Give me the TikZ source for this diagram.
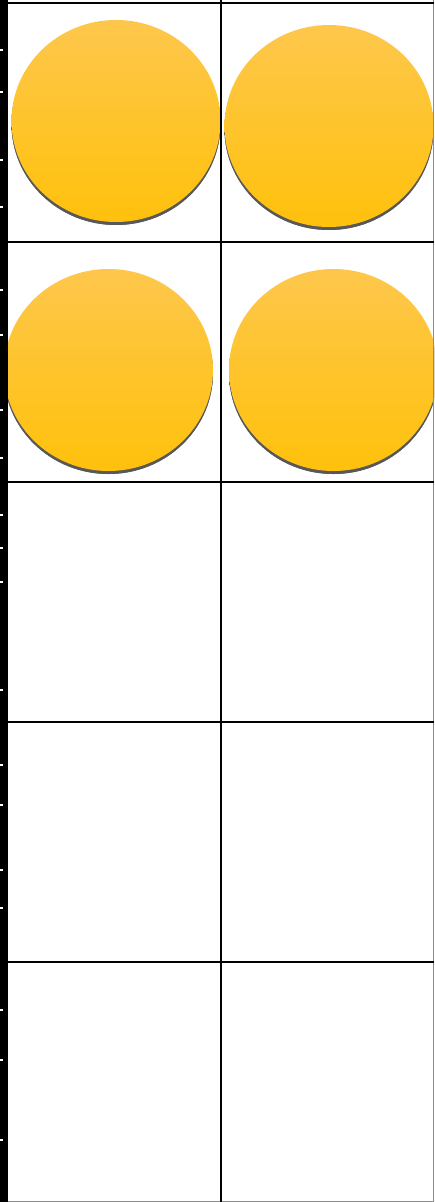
\documentclass[tikz,border=0pt]{standalone}
\usepackage{tikz}
\usetikzlibrary{shapes.geometric}

\definecolor{coinTop}{RGB}{254,199,76}
\definecolor{coinBottom}{RGB}{255,193,12}
\definecolor{coinEdge}{RGB}{88,88,88}

\begin{document}
\begin{tikzpicture}[
  x=1pt, y=-1pt,
  gridline/.style={draw=black, line width=2pt},
  edgeline/.style={draw=black!45, line width=1pt},
  coin/.style={
    ellipse, inner sep=0pt,
    minimum width=209pt, minimum height=202pt,
    top color=coinTop, bottom color=coinBottom
  },
  coinshadow/.style={coin, fill=coinEdge, top color=coinEdge, bottom color=coinEdge},
  tick/.style={draw=white, line width=1.2pt}
]

\useasboundingbox (0,0) rectangle (434,1202);
\fill[white] (0,0) rectangle (434,1202);
\clip (0,0) rectangle (434,1202);

% ---------- Coins (rows 1 and 2) ----------
\node[coinshadow] (sA) at (116,124) {};
\node[coin]       (coinA) at (116,121) {};
\node[coinshadow] (sB) at (329,129) {};
\node[coin]       (coinB) at (329,126) {};
\node[coinshadow] (sC) at (108.5,373) {};
\node[coin]       (coinC) at (108.5,370) {};
\node[coinshadow] (sD) at (333.5,373) {};
\node[coin]       (coinD) at (333.5,370) {};

% ---------- Grid ----------
\draw[edgeline] (433.5,0) -- (433.5,1202);
\draw[edgeline] (0,1201.5) -- (434,1201.5);
\draw[gridline] (0,2.5) -- (434,2.5);
\foreach \y in {242,482,722,962}
  \draw[gridline] (6,\y) -- (434,\y);
\draw[gridline] (220.5,0) -- (220.5,1202);
\draw[gridline] (6.5,0) -- (6.5,1202);

% ---------- Left strip ----------
\fill[black] (0,0) rectangle (5.5,1202);
\foreach \y in {50,92,160,207,290,335,410,458,515,548,582,690,765,805,870,908,1010,1060,1140}
  \draw[tick] (0,\y) -- (2.5,\y);

\end{tikzpicture}
\end{document}
